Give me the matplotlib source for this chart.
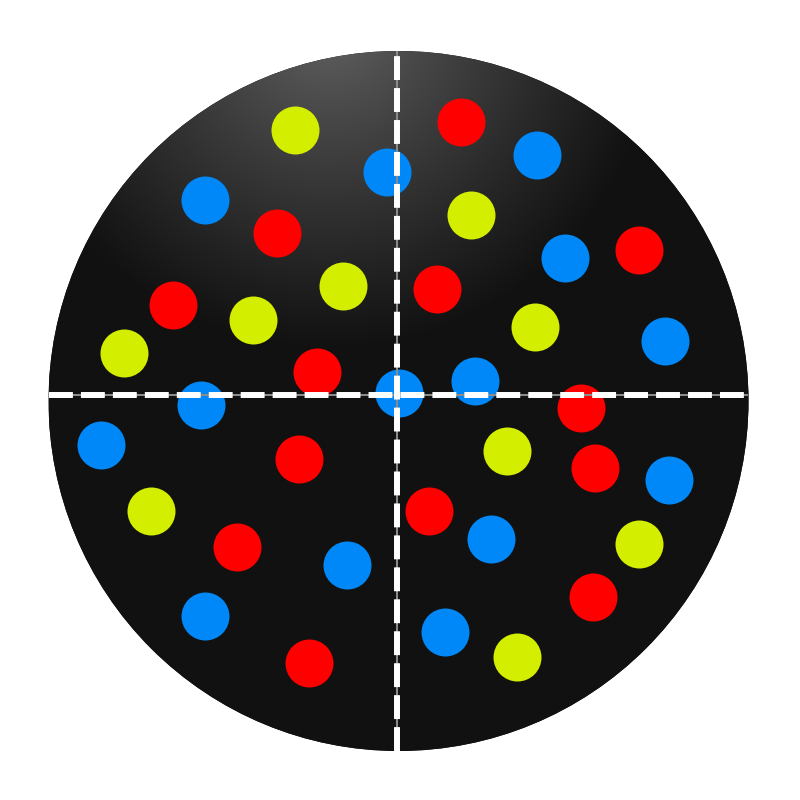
import numpy as np
import matplotlib
matplotlib.use("Agg")
import matplotlib.pyplot as plt
from matplotlib.patches import Circle
from matplotlib.colors import LinearSegmentedColormap

# point positions (circle centre at 0,0, radius 350)
yellow_x = [-104, 72, -56, -146, -275, 136, 108, -248, 240, 118]
yellow_y = [271, 186, 115, 81, 48, 74, -50, -110, -143, -256]

blue_x = [-12, 138, -194, 166, 266, 76, 0, -198, -298, 270, 92, -52, -194, 46]
blue_y = [229, 246, 201, 143, 60, 20, 8, -4, -44, -79, -138, -164, -215, -231]

red_x = [62, -122, 240, -226, 38, -82, 182, -100, 196, 30, -162, 194, -90]
red_y = [279, 168, 151, 96, 112, 29, -7, -58, -67, -110, -146, -196, -262]

radius = 350
cross_x = -2
cross_y = 6

fig = plt.figure(figsize=(8, 8), dpi=100)
ax = fig.add_axes([0, 0, 1, 1])
ax.set_xlim(-398.5, 401.5)
ax.set_ylim(-399, 401)
ax.set_aspect("equal")
ax.axis("off")

# dark disc with a soft highlight near the top left
disc = Circle((0, 0), radius, facecolor="#111111", edgecolor="none", zorder=1)
ax.add_patch(disc)
gx, gy = np.meshgrid(np.linspace(-radius, radius, 600), np.linspace(-radius, radius, 600))
d = np.hypot(gx + 70, gy - 380)
frac = np.clip(d / 330, 0, 1) ** 0.85
cmap = LinearSegmentedColormap.from_list("glow", ["#656565", "#111111"])
img = ax.imshow(frac, cmap=cmap, vmin=0, vmax=1, origin="lower",
                extent=(-radius, radius, -radius, radius), zorder=2, interpolation="bilinear")
img.set_clip_path(disc)

dot = 1194
ax.scatter(yellow_x, yellow_y, s=dot, color="#d4ee00", linewidths=0, zorder=3)
ax.scatter(blue_x, blue_y, s=dot, color="#0088f8", linewidths=0, zorder=3)
ax.scatter(red_x, red_y, s=dot, color="#ff0000", linewidths=0, zorder=3)

# dashed cross hair
hx = np.sqrt(radius**2 - cross_y**2)
vy = np.sqrt(radius**2 - cross_x**2)
for xs, ys in [([-hx, hx], [cross_y, cross_y]), ([cross_x, cross_x], [-vy, vy])]:
    l1, = ax.plot(xs, ys, color="#8a8a8a", lw=1.5, zorder=4, solid_capstyle="butt")
    l2, = ax.plot(xs, ys, color="white", lw=4.3, zorder=5,
                  linestyle=(0, (4.0, 1.35)), dash_capstyle="butt")
    l1.set_clip_path(disc)
    l2.set_clip_path(disc)

fig.savefig("out.png", dpi=100, facecolor="white")
